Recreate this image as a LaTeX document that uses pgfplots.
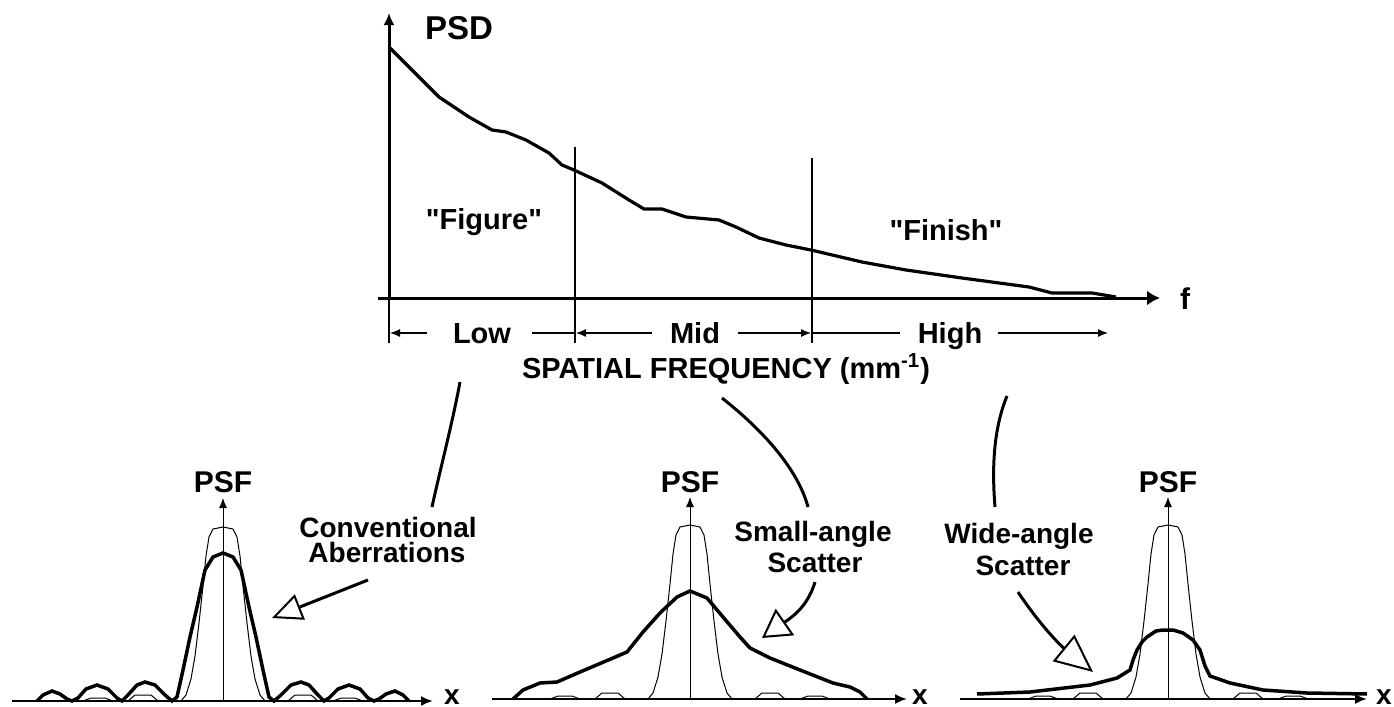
\documentclass[border=0pt]{standalone}
\usepackage{pgfplots}
\pgfplotsset{compat=1.18}
\usepackage{pgfplotstable}
\usepackage{fontspec}
\setmainfont{Liberation Sans}[Ligatures=TeXOff]
\usetikzlibrary{arrows.meta}

% ideal (thin) PSF, x offset and height in pixel units
\pgfplotstableread{
x y
-140 0
-132 3
-118 3
-110 0
-95 0
-88 6
-72 6
-65 0
-42 0
-37 6
-32 22
-28 45
-24 78
-20 115
-17 145
-14 164
-10 172
0 174
10 172
14 164
17 145
20 115
24 78
28 45
32 22
37 6
42 0
65 0
72 6
88 6
95 0
110 0
118 3
132 3
140 0
}\thinpsf

\newcommand\lab[1]{\fontsize{#1}{#1}\selectfont\bfseries}

\begin{document}
\begin{tikzpicture}[x=0.5pt,y=-0.5pt]
\useasboundingbox (0,0) rectangle (1394,707);

% ---------------- PSD ----------------
\begin{axis}[at={(194.5pt,-149pt)}, anchor=origin, x=0.5pt, y=0.5pt,
  xmin=-11, xmax=771, ymin=0, ymax=285,
  axis lines=middle, ticks=none, clip=false,
  x axis line style={line width=1.5pt,-{Latex[length=6.5pt,width=7.5pt]}},
  y axis line style={line width=1.5pt,-{Latex[length=6pt,width=5.5pt]}}]
\addplot[black, line width=1.6pt] coordinates {
(0,251) (23,228) (50,201) (80,181) (103,168) (117,166) (137,158) (160,145)
(173,133) (185,128) (213,115) (240,98) (255,89) (273,89) (297,81) (330,78)
(347,71) (370,60) (397,53) (422,48) (473,36) (517,28) (573,20) (640,11)
(663,5) (703,5) (727,1)};
\end{axis}

% dividers
\draw[line width=0.6pt] (389,298) -- (389,343);
\draw[line width=0.6pt] (575,147) -- (575,343);
\draw[line width=0.6pt] (812,158) -- (812,343);
% band arrows
\draw[line width=0.6pt,{Latex[length=5pt,width=4pt]}-] (390,333) -- (427,333);
\draw[line width=0.6pt] (532,333) -- (575,333);
\draw[line width=0.6pt,{Latex[length=5pt,width=4pt]}-] (576,333) -- (652,333);
\draw[line width=0.6pt,-{Latex[length=5pt,width=4pt]}] (738,333) -- (811,333);
\draw[line width=0.6pt] (812,333) -- (900,333);
\draw[line width=0.6pt,-{Latex[length=5pt,width=4pt]}] (998,333) -- (1108,333);

\node[anchor=base,inner sep=0,font=\lab{16.5pt}] at (459,39) {PSD};
\node[anchor=base,inner sep=0,font=\lab{15pt}] at (1185,309) {f};
\node[anchor=base,inner sep=0,font=\lab{14.5pt}] at (484,229) {"Figure"};
\node[anchor=base,inner sep=0,font=\lab{14.5pt}] at (946,240) {"Finish"};
\node[anchor=base,inner sep=0,font=\lab{14.5pt}] at (482,343) {Low};
\node[anchor=base,inner sep=0,font=\lab{14.5pt}] at (695,343) {Mid};
\node[anchor=base,inner sep=0,font=\lab{14.5pt}] at (950,343) {High};
\node[anchor=base,inner sep=0,font=\lab{14.5pt}] at (726,378) {SPATIAL FREQUENCY (mm\textsuperscript{-1})};

% connectors
\draw[line width=1.5pt] (460,382) .. controls (452,425) and (440,470) .. (432,507);
\draw[line width=1.5pt] (722,398) .. controls (765,432) and (798,470) .. (808,507);
\draw[line width=1.5pt] (1007,396) .. controls (993,430) and (992,470) .. (995,507);

% ---------------- PSF 1 ----------------
\begin{axis}[at={(111.5pt,-350.5pt)}, anchor=origin, x=0.5pt, y=0.5pt,
  xmin=-211, xmax=210, ymin=0, ymax=203,
  axis lines=middle, ticks=none, clip=false,
  x axis line style={line width=1pt,-{Latex[length=6pt,width=5pt]}},
  y axis line style={line width=0.5pt,-{Latex[length=5pt,width=4pt]}}]
\addplot[black, line width=0.5pt] table {\thinpsf};
\addplot[black, line width=1.75pt] coordinates {
(-186,0) (-180,6) (-171,10) (-163,7) (-156,2) (-151,0) (-145,3) (-137,12)
(-126,16) (-115,12) (-106,3) (-101,0) (-95,6) (-86,16) (-78,19) (-68,16)
(-58,6) (-51,0) (-46,4) (-40,31) (-33,64) (-26,94) (-18,131) (-10,144)
(0,148) (10,144) (18,131) (26,94) (33,64) (40,31) (46,4) (51,0) (58,6)
(68,16) (78,19) (86,16) (95,6) (101,0) (106,3) (115,12) (126,16) (137,12)
(145,3) (151,0) (156,2) (163,7) (172,10) (180,6) (186,0)};
\end{axis}

% ---------------- PSF 2 ----------------
\begin{axis}[at={(345pt,-349.5pt)}, anchor=origin, x=0.5pt, y=0.5pt,
  xmin=-198, xmax=217, ymin=0, ymax=202,
  axis lines=middle, ticks=none, clip=false,
  x axis line style={line width=1pt,-{Latex[length=6pt,width=5pt]}},
  y axis line style={line width=0.5pt,-{Latex[length=5pt,width=4pt]}}]
\addplot[black, line width=0.5pt] table {\thinpsf};
\addplot[black, line width=1.75pt] coordinates {
(-177,0) (-167,9) (-150,16) (-133,17) (-110,27) (-77,41) (-63,47) (-47,67)
(-30,86) (-13,102) (0,108) (17,101) (33,82) (50,62) (60,51) (80,41)
(110,29) (143,16) (160,12) (170,7) (177,0)};
\end{axis}

% ---------------- PSF 3 ----------------
\begin{axis}[at={(584pt,-349.5pt)}, anchor=origin, x=0.5pt, y=0.5pt,
  xmin=-208, xmax=199, ymin=0, ymax=202,
  axis lines=middle, ticks=none, clip=false,
  x axis line style={line width=1pt,-{Latex[length=6pt,width=5pt]}},
  y axis line style={line width=0.5pt,-{Latex[length=5pt,width=4pt]}}]
\addplot[black, line width=0.5pt] table {\thinpsf};
\addplot[black, line width=1.75pt] coordinates {
(-191,5) (-138,7) (-78,14) (-51,21) (-38,29) (-35,39) (-31,49) (-26,57)
(-21,62) (-12,68) (-5,69) (5,69) (15,66) (25,59) (32,49) (37,33) (42,23)
(62,16) (95,9) (139,6) (199,5)};
\end{axis}

% PSF labels and x labels
\foreach \cx in {223,690,1168} {
  \node[anchor=base,inner sep=0,font=\lab{15pt}] at (\cx,492) {PSF};
}
\node[anchor=base,inner sep=0,font=\lab{14pt}] at (452,704) {x};
\node[anchor=base,inner sep=0,font=\lab{14pt}] at (920,704) {x};
\node[anchor=base,inner sep=0,font=\lab{14pt}] at (1384,704) {x};

% annotations
\node[anchor=base,inner sep=0,font=\lab{14pt}] at (388,537) {Conventional};
\node[anchor=base,inner sep=0,font=\lab{14pt}] at (387,562) {Aberrations};
\node[anchor=base,inner sep=0,font=\lab{14pt}] at (813,541) {Small-angle};
\node[anchor=base,inner sep=0,font=\lab{14pt}] at (815,572) {Scatter};
\node[anchor=base,inner sep=0,font=\lab{14pt}] at (1019,543) {Wide-angle};
\node[anchor=base,inner sep=0,font=\lab{14pt}] at (1023,575) {Scatter};

\draw[line width=1.5pt,-{Triangle[open,length=15pt,width=13.5pt,line width=1pt]}]
  (368,580) -- (272,618);
\draw[line width=1.5pt,-{Triangle[open,length=14pt,width=16pt,line width=1pt]}]
  (815,582) .. controls (808,605) and (795,615) .. (762,638);
\draw[line width=1.5pt,-{Triangle[open,length=19pt,width=17pt,line width=1pt]}]
  (1018,592) .. controls (1040,625) and (1060,645) .. (1093,672);
\end{tikzpicture}
\end{document}
